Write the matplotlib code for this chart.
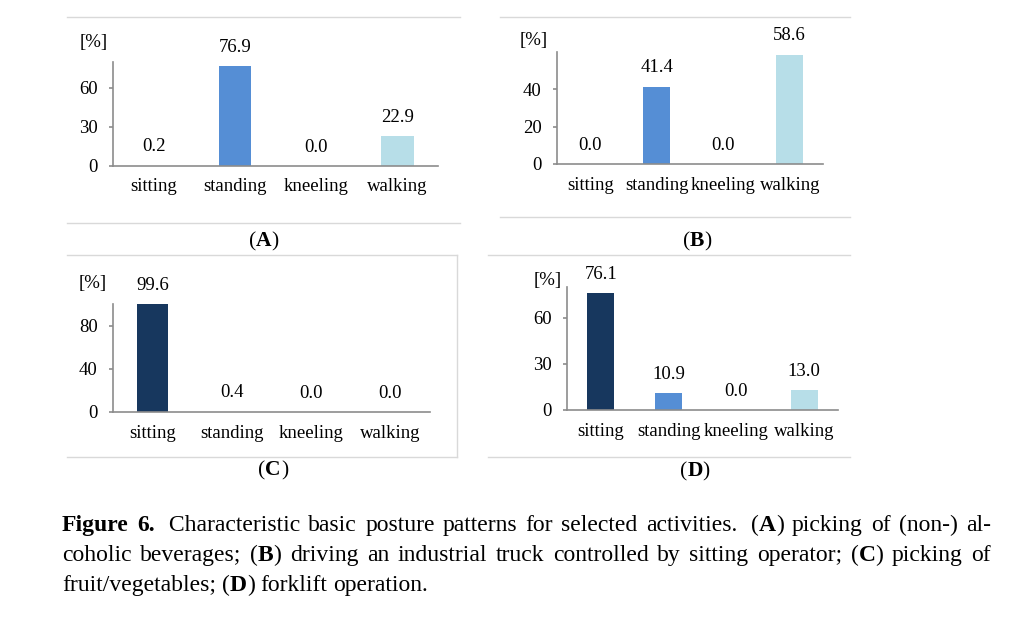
import matplotlib
matplotlib.use('Agg')
import matplotlib.pyplot as plt
import numpy as np
from matplotlib.lines import Line2D

plt.rcParams['font.family'] = ['Liberation Serif', 'DejaVu Serif']

postures = ['sitting', 'standing', 'kneeling', 'walking']
vals_A = [0.2, 76.9, 0.0, 22.9]
vals_B = [0.0, 41.4, 0.0, 58.6]
vals_C = [99.6, 0.4, 0.0, 0.0]
vals_D = [76.1, 10.9, 0.0, 13.0]
ticks_A = [0, 30, 60]
ticks_B = [0, 20, 40]
ticks_C = [0, 40, 80]
ticks_D = [0, 30, 60]
bar_colors = ['#17375e', '#558ed5', '#8eb4e3', '#b7dee8']

W, H = 1024, 619
fig = plt.figure(figsize=(W/100, H/100), dpi=100)
fig.patch.set_facecolor('white')

def fx(x):
    return x / W

def fy(y):
    return 1 - y / H

def make_panel(box, vals, yticks, ymax):
    l, t, r, b = box
    ax = fig.add_axes([fx(l), fy(b), fx(r) - fx(l), fy(t) - fy(b)])
    x = np.arange(len(vals))
    ax.bar(x, vals, 0.4, color=bar_colors, zorder=2)
    for xi, v in zip(x, vals):
        ax.annotate('%.1f' % v, (xi, v), xytext=(0, 13.5), textcoords='offset points',
                    ha='center', va='center', fontsize=13.5)
    ax.set_xlim(-0.5, len(vals) - 0.5)
    ax.set_ylim(0, ymax)
    ax.set_yticks(yticks)
    ax.set_xticks(x)
    ax.set_xticklabels(postures)
    for s in ['top', 'right']:
        ax.spines[s].set_visible(False)
    for s in ['left', 'bottom']:
        ax.spines[s].set_color('#8c8c8c')
        ax.spines[s].set_linewidth(1.2)
    ax.tick_params(axis='x', length=0, pad=9, labelsize=13.5)
    ax.tick_params(axis='y', length=3, width=1.2, color='#8c8c8c', pad=8, labelsize=13.5)
    ax.patch.set_alpha(0)
    return ax

make_panel((113, 62, 438, 166), vals_A, ticks_A, 80)
make_panel((557, 52, 823, 164), vals_B, ticks_B, 60)
make_panel((113, 304, 430, 412), vals_C, ticks_C, 100)
make_panel((567, 287, 838, 410), vals_D, ticks_D, 80)

# "[%]" unit labels
for (ux, uy) in [(94, 43), (534, 41), (93, 284), (548, 280)]:
    fig.text(fx(ux), fy(uy), '[%]', ha='center', va='center', fontsize=13.5)

# light grey frame lines around the panels
frame = '#d9d9d9'
segs = [((67, 17), (460, 17)), ((67, 223), (460, 223)),
        ((500, 17), (850, 17)), ((500, 217), (850, 217)),
        ((67, 255), (457, 255)), ((457, 255), (457, 457)), ((67, 457), (457, 457)),
        ((488, 255), (850, 255)), ((488, 457), (850, 457))]
for (x0, y0), (x1, y1) in segs:
    fig.add_artist(Line2D([fx(x0), fx(x1)], [fy(y0), fy(y1)], color=frame, lw=1.0))

renderer = fig.canvas.get_renderer()

def seg_width(txt, bold, size):
    t = fig.text(0, 0, txt, fontsize=size, fontweight='bold' if bold else 'normal')
    w = t.get_window_extent(renderer).width
    t.remove()
    return w

# y given here is the baseline
def draw_segments(segs, x, y, size):
    for txt, bold in segs:
        fig.text(fx(x), fy(y), txt, fontsize=size, va='baseline',
                 fontweight='bold' if bold else 'normal')
        x += seg_width(txt, bold, size)
    return x

def panel_label(letter, cx, cy, size=15.5):
    segs = [('(', False), (letter, True), (')', False)]
    w = sum(seg_width(s, b, size) for s, b in segs)
    draw_segments(segs, cx - w / 2, cy + 6, size)

panel_label('A', 264, 240)
panel_label('B', 697, 240)
panel_label('C', 273, 469)
panel_label('D', 695, 470)

# caption
cap_size = 17
def word(s):
    return [(s, False)]

def lab(letter):
    return [('(', False), (letter, True), (')', False)]

line1 = [[('Figure', True)], [('6.', True)], [(' Characteristic', False)]] + \
    [word(w) for w in 'basic posture patterns for selected activities.'.split()] + \
    [[(' ', False)] + lab('A')] + [word(w) for w in 'picking of (non-) al-'.split()]
line2 = [word(w) for w in 'coholic beverages;'.split()] + [lab('B')] + \
    [word(w) for w in 'driving an industrial truck controlled by sitting operator;'.split()] + \
    [lab('C')] + [word(w) for w in 'picking of'.split()]
line3 = [word('fruit/vegetables;'), lab('D')] + [word(w) for w in 'forklift operation.'.split()]

def draw_line(words, x0, y, right=None):
    widths = [sum(seg_width(s, b, cap_size) for s, b in wd) for wd in words]
    if right is None:
        gap = seg_width(' ', False, cap_size)
    else:
        gap = (right - x0 - sum(widths)) / (len(words) - 1)
    x = x0
    for wd, w in zip(words, widths):
        draw_segments(wd, x, y + 6, cap_size)
        x += w + gap

draw_line(line1, 62, 525, right=991)
draw_line(line2, 62, 555, right=991)
draw_line(line3, 62, 585)

fig.savefig('out.png', dpi=100)
